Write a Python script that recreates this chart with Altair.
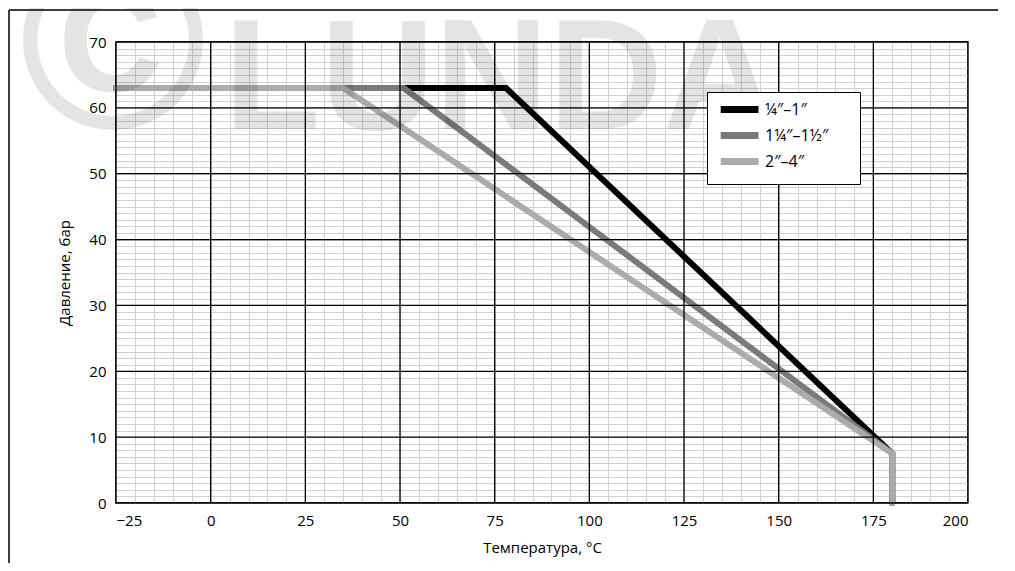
import altair as alt
import pandas as pd

# ---- data ----
series = ["¼″–1″", "1¼″–1½″", "2″–4″"]
colors = ["#000000", "#7a7a7a", "#ababab"]
temp_black = [-25, 78, 180, 180]
pres_black = [63, 63, 7.5, 0]
temp_dark = [-25, 51, 180, 180]
pres_dark = [63, 63, 7.5, 0]
temp_light = [-25, 35, 180, 180]
pres_light = [63, 63, 7.5, 0]

x_minor = list(range(-25, 201, 5))
y_minor = list(range(0, 71, 1))
x_major = list(range(-25, 201, 25))
y_major = list(range(0, 71, 10))

rows = []
for name, ts, ps in zip(series, [temp_black, temp_dark, temp_light],
                        [pres_black, pres_dark, pres_light]):
    for i, (t, p) in enumerate(zip(ts, ps)):
        rows.append({"series": name, "t": t, "p": p, "ord": i})
df = pd.DataFrame(rows)

FONT = "Open Sans"

x_scale = alt.Scale(domain=[-25, 200], nice=False, zero=False)
y_scale = alt.Scale(domain=[0, 70], nice=False)

x_axis = alt.Axis(values=x_minor, title="Температура, °C",
                  labelExpr="datum.value % 25 === 0 ? datum.label : ''",
                  gridColor="#d0d0d0", gridWidth=1, ticks=False,
                  labelPadding=10, titlePadding=12, domain=False,
                  labelFontSize=15, titleFontSize=15, labelColor="#000",
                  titleColor="#000", titleFontWeight="normal",
                  labelFont=FONT, titleFont=FONT)
y_axis = alt.Axis(values=y_minor, title="Давление, бар",
                  labelExpr="datum.value % 10 === 0 ? datum.label : ''",
                  gridColor="#d0d0d0", gridWidth=1, ticks=False,
                  labelPadding=10, titlePadding=16, domain=False,
                  labelFontSize=15, titleFontSize=15, labelColor="#000",
                  titleColor="#000", titleFontWeight="normal",
                  labelFont=FONT, titleFont=FONT)

major_x = alt.Chart(pd.DataFrame({"t": x_major})).mark_rule(
    color="#000", strokeWidth=1.3).encode(x=alt.X("t:Q", scale=x_scale, axis=x_axis))
major_y = alt.Chart(pd.DataFrame({"p": y_major})).mark_rule(
    color="#000", strokeWidth=1.3).encode(y=alt.Y("p:Q", scale=y_scale, axis=y_axis))

lines = alt.Chart(df).mark_line(strokeWidth=6, strokeCap="round", strokeJoin="miter").encode(
    x=alt.X("t:Q", scale=x_scale, axis=x_axis),
    y=alt.Y("p:Q", scale=y_scale, axis=y_axis),
    order="ord:Q",
    color=alt.Color("series:N",
                    scale=alt.Scale(domain=series, range=colors),
                    sort=series,
                    legend=alt.Legend(title="|", titleOrient="right", titleColor="#ffffff",
                                      titleFontSize=14, titlePadding=20,
                                      orient="none", legendX=591, legendY=50,
                                      fillColor="#ffffff", strokeColor="#000000",
                                      padding=8, symbolType="M-0.63,0H5.67", symbolSize=144,
                                      symbolStrokeWidth=7, labelFontSize=16, labelFont=FONT,
                                      labelColor="#000", rowPadding=-3, labelOffset=31,
                                      offset=0)),
)

wm = pd.DataFrame({"c": ["©"], "txt": ["LUNDA"]})
wm_copy = alt.Chart(wm).mark_text(
    font="Liberation Sans", fontSize=255, fontWeight="bold", align="left",
    baseline="alphabetic", color="#000000", opacity=0.1
).encode(x=alt.value(-97), y=alt.value(86), text="c:N")
wm_name = alt.Chart(wm).mark_text(
    font="Liberation Sans", fontSize=158, fontWeight="bold", align="left",
    baseline="alphabetic", color="#000000", opacity=0.1
).encode(x=alt.value(108), y=alt.value(87), text="txt:N")

frame_left = alt.Chart(wm).mark_rule(color="#000", strokeWidth=1.5).encode(
    x=alt.value(-107), y=alt.value(-32), y2=alt.value(600))
frame_top = alt.Chart(wm).mark_rule(color="#000", strokeWidth=1.5).encode(
    x=alt.value(-107), x2=alt.value(1000), y=alt.value(-32))

chart = alt.layer(lines, major_x, major_y, wm_copy, wm_name, frame_left, frame_top).properties(
    width=852, height=461,
    autosize=alt.AutoSizeParams(type="none"),
    padding={"left": 108, "top": 34, "right": 30, "bottom": 60},
).configure_view(stroke="#000000", strokeWidth=1.5)

chart.save("out.html", embed_options={"renderer": "svg", "actions": False})
